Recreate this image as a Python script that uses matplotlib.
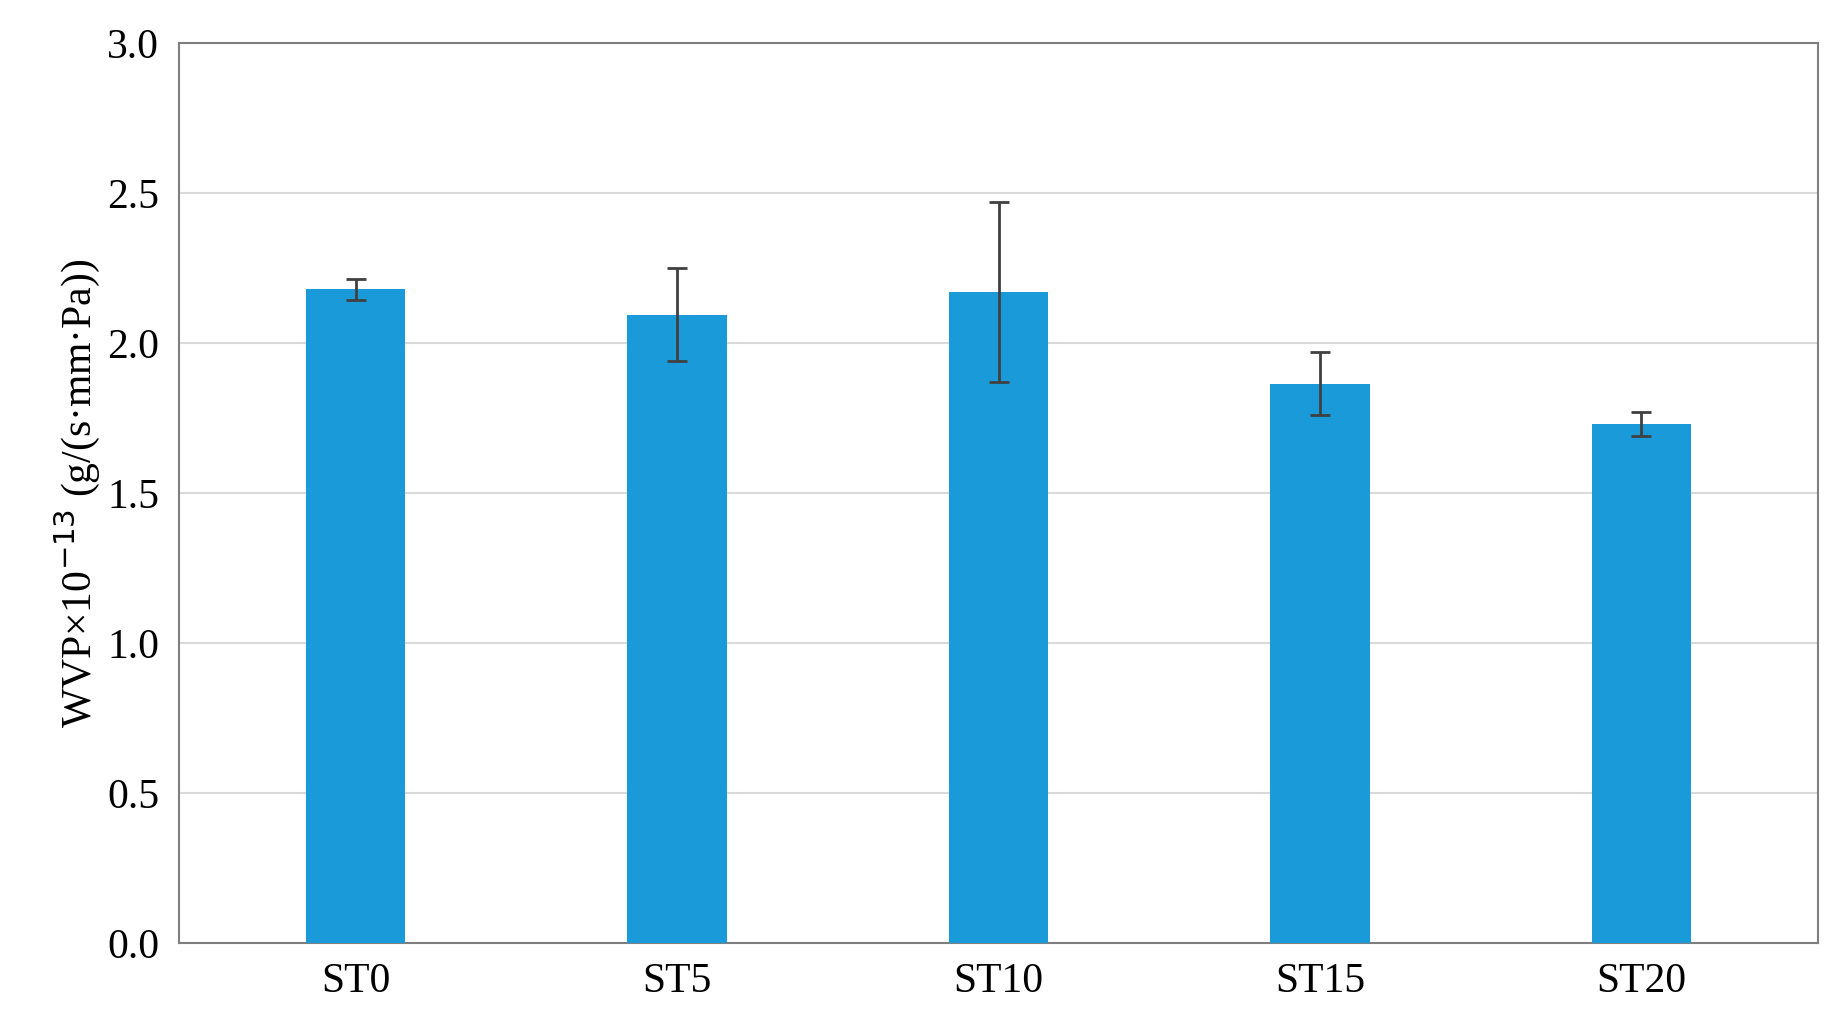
import matplotlib.pyplot as plt
import numpy as np

samples = ["ST0", "ST5", "ST10", "ST15", "ST20"]
wvp = [2.18, 2.095, 2.17, 1.865, 1.73]
wvp_err = [0.035, 0.155, 0.30, 0.105, 0.04]

plt.rcParams["font.family"] = ["Liberation Serif", "DejaVu Serif"]

fig = plt.figure(figsize=(18.44, 10.34), dpi=100)
ax = fig.add_axes([0.097, 0.088, 0.889, 0.87])

x = np.arange(len(samples))
ax.bar(x, wvp, width=0.31, color="#1a9ad8", zorder=3)
ax.errorbar(x, wvp, yerr=wvp_err, fmt="none", ecolor="#404040",
            elinewidth=2, capsize=7, capthick=2, zorder=4)

ax.set_xlim(-0.55, len(samples) - 0.45)
ax.set_ylim(0, 3.0)
ax.set_yticks(np.arange(0, 3.01, 0.5))
ax.yaxis.set_major_formatter(plt.FuncFormatter(lambda v, _: f"{v:.1f}"))
ax.set_xticks(x)
ax.set_xticklabels(samples)
ax.tick_params(axis="both", labelsize=30, length=0, pad=14)
ax.grid(axis="y", color="#d9d9d9", linewidth=1.5, zorder=0)
for s in ax.spines.values():
    s.set_color("#7f7f7f")
    s.set_linewidth(1.5)
ax.set_ylabel(r"WVP×10$^{-13}$ (g/(s·mm·Pa))", fontsize=30)

fig.savefig("out.png", dpi=100, facecolor="white")
